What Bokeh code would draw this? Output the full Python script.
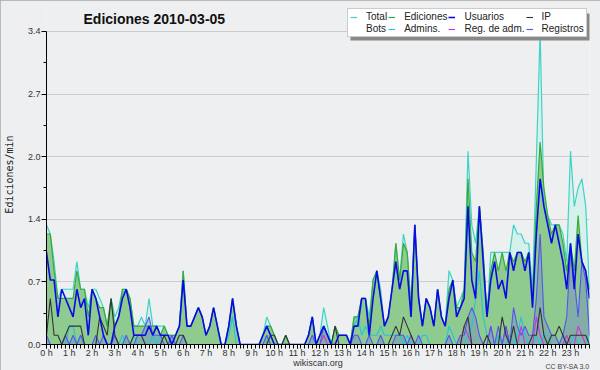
from bokeh.plotting import figure
from bokeh.models import (Range1d, FixedTicker, NumeralTickFormatter, Legend, LegendItem,
                          Label, BoxAnnotation, ColumnDataSource, Title)
from bokeh.embed import file_html
from bokeh.resources import INLINE

hour_labels = ["0 h", "1 h", "2 h", "3 h", "4 h", "5 h", "6 h", "7 h", "8 h", "9 h",
               "10 h", "11 h", "12 h", "13 h", "14 h", "15 h", "16 h", "17 h", "18 h",
               "19 h", "20 h", "21 h", "22 h", "23 h"]

# values: edits per minute, one value per 10-minute slot (6 per hour)
total = [
    1.3, 1.2, 0.9, 0.5, 0.6, 0.6,
    0.6, 0.6, 0.9, 0.6, 0.6, 0.4,
    0.6, 0.6, 0.5, 0.4, 0.2, 0.5,
    0.3, 0.4, 0.6, 0.6, 0.5, 0.2,
    0.2, 0.3, 0.2, 0.5, 0.2, 0.2,
    0.2, 0.2, 0.1, 0.1, 0.1, 0.2,
    0.8, 0.2, 0.2, 0.3, 0.4, 0.3,
    0.1, 0.2, 0.4, 0.2, 0.0, 0.0,
    0.2, 0.5, 0.2, 0.0, 0.0, 0.0,
    0.0, 0.0, 0.0, 0.1, 0.3, 0.2,
    0.1, 0.0, 0.0, 0.1, 0.0, 0.0,
    0.0, 0.0, 0.0, 0.1, 0.3, 0.0,
    0.1, 0.4, 0.2, 0.0, 0.2, 0.1,
    0.1, 0.1, 0.0, 0.3, 0.3, 0.5,
    0.5, 0.3, 0.7, 0.8, 0.6, 0.2,
    0.3, 0.6, 1.1, 0.7, 1.2, 1.0,
    0.4, 1.3, 0.5, 0.2, 0.5, 0.4,
    0.2, 0.6, 0.3, 0.2, 0.8, 0.7,
    0.4, 0.5, 0.6, 2.1, 1.3, 1.1,
    1.5, 1.0, 0.3, 1.0, 1.0, 1.0,
    1.0, 1.0, 1.0, 1.3, 1.2, 1.2,
    1.1, 1.1, 0.6, 2.0, 3.4, 1.5,
    1.4, 1.3, 1.3, 1.3, 1.2, 0.9,
    2.1, 1.5, 1.7, 1.8, 1.5, 0.6,
]
ediciones = [
    1.2, 1.2, 0.8, 0.5, 0.5, 0.5,
    0.5, 0.5, 0.8, 0.6, 0.6, 0.3,
    0.6, 0.5, 0.4, 0.4, 0.2, 0.5,
    0.2, 0.3, 0.6, 0.6, 0.5, 0.2,
    0.2, 0.2, 0.2, 0.2, 0.2, 0.2,
    0.1, 0.2, 0.1, 0.1, 0.1, 0.2,
    0.8, 0.2, 0.2, 0.3, 0.4, 0.3,
    0.1, 0.2, 0.4, 0.2, 0.0, 0.0,
    0.2, 0.5, 0.2, 0.0, 0.0, 0.0,
    0.0, 0.0, 0.0, 0.1, 0.2, 0.2,
    0.1, 0.0, 0.0, 0.1, 0.0, 0.0,
    0.0, 0.0, 0.0, 0.1, 0.3, 0.0,
    0.1, 0.2, 0.1, 0.0, 0.2, 0.1,
    0.1, 0.1, 0.0, 0.3, 0.3, 0.5,
    0.5, 0.2, 0.7, 0.8, 0.5, 0.2,
    0.3, 0.6, 1.1, 0.7, 1.1, 1.0,
    0.4, 1.3, 0.5, 0.2, 0.5, 0.4,
    0.2, 0.6, 0.3, 0.2, 0.6, 0.7,
    0.4, 0.4, 0.6, 1.8, 1.0, 0.9,
    1.5, 1.0, 0.3, 0.8, 1.0, 0.8,
    1.0, 0.8, 1.0, 0.9, 1.0, 1.0,
    0.9, 1.0, 0.5, 1.5, 2.2, 1.7,
    1.4, 1.2, 1.3, 1.3, 1.1, 0.8,
    1.1, 0.8, 1.4, 0.9, 0.8, 0.6,
]
usuarios = [
    1.0, 0.7, 0.7, 0.3, 0.6, 0.5,
    0.4, 0.3, 0.6, 0.4, 0.5, 0.1,
    0.6, 0.5, 0.3, 0.1, 0.0, 0.0,
    0.2, 0.3, 0.5, 0.6, 0.4, 0.1,
    0.1, 0.1, 0.1, 0.2, 0.1, 0.2,
    0.1, 0.1, 0.1, 0.0, 0.1, 0.2,
    0.7, 0.2, 0.2, 0.3, 0.4, 0.3,
    0.1, 0.2, 0.4, 0.2, 0.0, 0.0,
    0.2, 0.5, 0.2, 0.0, 0.0, 0.0,
    0.0, 0.0, 0.0, 0.1, 0.2, 0.1,
    0.0, 0.0, 0.0, 0.0, 0.0, 0.0,
    0.0, 0.0, 0.0, 0.1, 0.3, 0.0,
    0.1, 0.2, 0.1, 0.0, 0.0, 0.1,
    0.1, 0.1, 0.0, 0.2, 0.2, 0.5,
    0.5, 0.1, 0.5, 0.8, 0.5, 0.2,
    0.3, 0.6, 0.9, 0.6, 0.8, 0.8,
    0.3, 1.3, 0.5, 0.2, 0.5, 0.4,
    0.2, 0.6, 0.3, 0.2, 0.5, 0.7,
    0.3, 0.4, 0.5, 1.5, 0.7, 0.5,
    1.5, 0.9, 0.3, 0.7, 0.9, 0.6,
    0.7, 0.5, 1.0, 0.8, 1.0, 1.0,
    0.8, 1.0, 0.4, 1.2, 1.8, 1.5,
    1.3, 1.1, 1.3, 1.1, 0.9, 0.6,
    1.1, 0.6, 1.2, 0.9, 0.8, 0.5,
]
ip = [
    0.1, 0.5, 0.1, 0.1, 0.0, 0.1,
    0.2, 0.2, 0.2, 0.2, 0.0, 0.0,
    0.0, 0.0, 0.3, 0.2, 0.1, 0.5,
    0.1, 0.0, 0.0, 0.0, 0.0, 0.1,
    0.1, 0.1, 0.0, 0.0, 0.0, 0.0,
    0.0, 0.1, 0.0, 0.0, 0.0, 0.1,
    0.1, 0.0, 0.0, 0.0, 0.0, 0.0,
    0.0, 0.0, 0.0, 0.0, 0.0, 0.0,
    0.0, 0.0, 0.0, 0.0, 0.0, 0.0,
    0.0, 0.0, 0.0, 0.0, 0.0, 0.1,
    0.1, 0.0, 0.0, 0.1, 0.0, 0.0,
    0.0, 0.0, 0.0, 0.0, 0.0, 0.0,
    0.0, 0.0, 0.0, 0.0, 0.2, 0.0,
    0.0, 0.0, 0.0, 0.0, 0.0, 0.0,
    0.0, 0.0, 0.0, 0.0, 0.0, 0.0,
    0.0, 0.1, 0.2, 0.1, 0.3, 0.2,
    0.1, 0.0, 0.0, 0.0, 0.0, 0.0,
    0.0, 0.0, 0.0, 0.0, 0.0, 0.0,
    0.0, 0.0, 0.2, 0.3, 0.0, 0.0,
    0.0, 0.0, 0.1, 0.0, 0.0, 0.0,
    0.3, 0.1, 0.0, 0.2, 0.0, 0.0,
    0.0, 0.0, 0.1, 0.1, 0.4, 0.1,
    0.0, 0.1, 0.1, 0.2, 0.1, 0.0,
    0.1, 0.1, 0.1, 0.1, 0.1, 0.0,
]
admins = [
    0.0, 0.0, 0.0, 0.0, 0.0, 0.0,
    0.2, 0.2, 0.0, 0.1, 0.0, 0.0,
    0.0, 0.0, 0.0, 0.0, 0.0, 0.0,
    0.0, 0.0, 0.1, 0.0, 0.0, 0.1,
    0.0, 0.0, 0.0, 0.0, 0.1, 0.0,
    0.1, 0.0, 0.0, 0.0, 0.0, 0.0,
    0.0, 0.0, 0.0, 0.0, 0.0, 0.0,
    0.0, 0.0, 0.0, 0.0, 0.0, 0.0,
    0.1, 0.3, 0.0, 0.0, 0.0, 0.0,
    0.0, 0.0, 0.0, 0.0, 0.1, 0.0,
    0.0, 0.0, 0.0, 0.0, 0.0, 0.0,
    0.0, 0.0, 0.0, 0.0, 0.0, 0.0,
    0.0, 0.0, 0.0, 0.0, 0.0, 0.0,
    0.0, 0.0, 0.0, 0.2, 0.3, 0.1,
    0.2, 0.1, 0.1, 0.1, 0.2, 0.1,
    0.1, 0.1, 0.1, 0.1, 0.0, 0.1,
    0.0, 0.0, 0.0, 0.1, 0.1, 0.0,
    0.0, 0.0, 0.0, 0.0, 0.2, 0.1,
    0.0, 0.0, 0.0, 0.1, 0.2, 0.5,
    0.8, 0.3, 0.1, 0.0, 0.0, 0.1,
    0.0, 0.0, 0.1, 0.0, 0.1, 0.3,
    0.1, 0.0, 0.0, 0.1, 0.0, 0.1,
    0.1, 0.0, 0.0, 0.0, 0.1, 0.0,
    0.0, 0.1, 0.0, 0.0, 0.0, 0.1,
]
reg_adm = [
    0.0, 0.0, 0.0, 0.0, 0.0, 0.0,
    0.0, 0.0, 0.0, 0.0, 0.0, 0.0,
    0.0, 0.0, 0.0, 0.0, 0.0, 0.0,
    0.0, 0.0, 0.0, 0.0, 0.0, 0.0,
    0.0, 0.0, 0.0, 0.0, 0.0, 0.0,
    0.0, 0.0, 0.0, 0.0, 0.0, 0.0,
    0.0, 0.0, 0.0, 0.0, 0.0, 0.0,
    0.0, 0.0, 0.0, 0.0, 0.0, 0.0,
    0.0, 0.0, 0.0, 0.0, 0.0, 0.0,
    0.0, 0.0, 0.0, 0.0, 0.0, 0.0,
    0.0, 0.0, 0.0, 0.0, 0.0, 0.0,
    0.0, 0.0, 0.0, 0.0, 0.0, 0.0,
    0.0, 0.1, 0.0, 0.0, 0.0, 0.0,
    0.0, 0.0, 0.0, 0.0, 0.0, 0.0,
    0.0, 0.0, 0.0, 0.0, 0.0, 0.0,
    0.0, 0.0, 0.0, 0.0, 0.0, 0.0,
    0.0, 0.0, 0.0, 0.0, 0.0, 0.0,
    0.0, 0.0, 0.0, 0.0, 0.0, 0.0,
    0.0, 0.0, 0.2, 0.1, 0.0, 0.0,
    0.0, 0.0, 0.0, 0.2, 0.0, 0.0,
    0.0, 0.2, 0.0, 0.0, 0.0, 0.2,
    0.0, 0.0, 0.0, 0.3, 0.1, 0.0,
    0.0, 0.0, 0.0, 0.0, 0.0, 0.1,
    0.0, 0.0, 0.2, 0.1, 0.0, 0.0,
]
registros = [
    0.1, 0.0, 0.0, 0.0, 0.0, 0.1,
    0.0, 0.1, 0.0, 0.1, 0.0, 0.0,
    0.0, 0.1, 0.0, 0.1, 0.0, 0.0,
    0.1, 0.0, 0.0, 0.1, 0.0, 0.0,
    0.1, 0.1, 0.2, 0.3, 0.1, 0.1,
    0.1, 0.0, 0.0, 0.1, 0.0, 0.0,
    0.1, 0.0, 0.0, 0.0, 0.0, 0.0,
    0.0, 0.0, 0.0, 0.0, 0.0, 0.0,
    0.0, 0.0, 0.0, 0.0, 0.0, 0.0,
    0.0, 0.0, 0.0, 0.0, 0.1, 0.0,
    0.0, 0.0, 0.0, 0.0, 0.0, 0.0,
    0.0, 0.0, 0.0, 0.0, 0.1, 0.0,
    0.0, 0.2, 0.1, 0.0, 0.0, 0.0,
    0.0, 0.0, 0.0, 0.1, 0.1, 0.0,
    0.0, 0.1, 0.0, 0.0, 0.1, 0.0,
    0.0, 0.0, 0.1, 0.1, 0.1, 0.0,
    0.1, 0.0, 0.1, 0.0, 0.0, 0.0,
    0.0, 0.0, 0.0, 0.0, 0.1, 0.0,
    0.0, 0.1, 0.1, 0.3, 0.4, 0.3,
    0.1, 0.0, 0.0, 0.2, 0.0, 0.2,
    0.0, 0.2, 0.0, 0.4, 0.2, 0.1,
    0.2, 0.1, 0.1, 0.5, 1.2, 0.3,
    0.2, 0.1, 0.1, 0.0, 0.1, 0.3,
    1.0, 0.7, 0.3, 0.9, 0.7, 0.1,
]

slot = list(range(len(total)))
src = ColumnDataSource(dict(slot=slot, total=total, ediciones=ediciones, usuarios=usuarios,
                            ip=ip, admins=admins, reg_adm=reg_adm, registros=registros))

BG = "#eeeff0"
p = figure(width=600, height=370, output_backend="svg", toolbar_location=None,
           x_range=Range1d(0, len(total) - 1), y_range=Range1d(0, 3.693),
           min_border_left=46, min_border_right=11, min_border_top=4, min_border_bottom=26,
           background_fill_color=BG, border_fill_color=BG)
p.outline_line_color = None
p.styles = {"outline": "1px solid #a8a8a8", "outline-offset": "-1px"}

# axes
p.xaxis.ticker = FixedTicker(ticks=[6 * h for h in range(24)], minor_ticks=slot)
p.xaxis.major_label_overrides = {6 * h: lab for h, lab in enumerate(hour_labels)}
p.yaxis.ticker = FixedTicker(ticks=[0, 0.68, 1.36, 2.04, 2.72, 3.4],
                             minor_ticks=[0.34, 1.02, 1.7, 2.38, 3.06])
p.yaxis.formatter = NumeralTickFormatter(format="0.0")
p.yaxis.bounds = (0, 3.4)
for ax in (p.xaxis[0], p.yaxis[0]):
    ax.axis_line_color = "#000000"
    ax.major_tick_line_color = "#000000"
    ax.minor_tick_line_color = "#000000"
    ax.major_tick_in = 0
    ax.minor_tick_in = 0
    ax.major_label_text_font = "Liberation Sans"
    ax.major_label_text_font_size = "9px"
    ax.major_label_text_color = "#333333"
    ax.major_label_text_line_height = 1.0
p.xaxis.major_label_standoff = -1
p.yaxis.major_label_standoff = 1
p.xaxis.major_tick_out = 4
p.xaxis.minor_tick_out = 4
p.yaxis.major_tick_out = 5
p.yaxis.minor_tick_out = 3
p.xaxis.axis_label = "wikiscan.org"
p.xaxis.axis_label_text_font = "Liberation Sans"
p.xaxis.axis_label_text_font_size = "9px"
p.xaxis.axis_label_text_font_style = "normal"
p.xaxis.axis_label_text_color = "#333333"
p.xaxis.axis_label_text_line_height = 1.0
p.xaxis.axis_label_standoff = -3
p.yaxis.axis_label = "Ediciones/min"
p.yaxis.axis_label_text_font = "DejaVu Sans Mono"
p.yaxis.axis_label_text_font_size = "10px"
p.yaxis.axis_label_text_font_style = "normal"
p.yaxis.axis_label_text_color = "#222222"
p.yaxis.axis_label_standoff = 10
p.xgrid.grid_line_color = None
p.ygrid.grid_line_color = "#cccccc"

# areas
p.varea(x="slot", y1=0, y2="total", source=src, fill_color="#d6f0eb")
p.varea(x="slot", y1=0, y2="ediciones", source=src, fill_color="#8fca8f")
p.varea(x="slot", y1=0, y2="registros", source=src, fill_color="#6a6ae0", fill_alpha=0.3)

# lines
r_total = p.line("slot", "total", source=src, line_color="#3fd3c6", line_width=1.2)
r_edic = p.line("slot", "ediciones", source=src, line_color="#38aa38", line_width=1.2)
r_bots = p.line(x=[], y=[], line_color="#ff9933", line_width=1.2)
r_adm = p.line("slot", "admins", source=src, line_color="#22c6d6", line_width=1.1)
r_regadm = p.line("slot", "reg_adm", source=src, line_color="#cc33dd", line_width=1.1)
r_reg = p.line("slot", "registros", source=src, line_color="#5555ee", line_width=1.1)
r_ip = p.line("slot", "ip", source=src, line_color="#333333", line_width=1.1)
r_usu = p.line("slot", "usuarios", source=src, line_color="#0a0ae6", line_width=1.6)

# legend shadow
shadow = BoxAnnotation(left=304, right=546, top=331, bottom=304,
                       left_units="screen", right_units="screen",
                       top_units="screen", bottom_units="screen",
                       fill_color="#888888", fill_alpha=1.0, line_color=None)
p.add_layout(shadow)

legend = Legend(items=[
    LegendItem(label="Total", renderers=[r_total]),
    LegendItem(label="Ediciones", renderers=[r_edic]),
    LegendItem(label="Usuarios", renderers=[r_usu]),
    LegendItem(label="IP", renderers=[r_ip]),
    LegendItem(label="Bots", renderers=[r_bots]),
    LegendItem(label="Admins.", renderers=[r_adm]),
    LegendItem(label="Reg. de adm.", renderers=[r_regadm]),
    LegendItem(label="Registros", renderers=[r_reg]),
], location=(301, 307), orientation="horizontal", ncols=4, nrows=2)
legend.label_text_font = "Liberation Sans"
legend.label_text_font_size = "10px"
legend.label_text_line_height = 1.0
legend.label_text_color = "#222222"
legend.label_height = 10
legend.glyph_height = 10
legend.glyph_width = 7
legend.label_standoff = 9
legend.spacing = 1
legend.padding = 2
legend.margin = 0
legend.border_line_color = "#999999"
legend.background_fill_color = "#ffffff"
legend.background_fill_alpha = 1.0
p.add_layout(legend)

# title inside the (extended) frame
p.add_layout(Label(x=37, y=326, x_units="screen", y_units="screen",
                   text="Ediciones  2010-03-05", text_font="Liberation Sans",
                   text_font_style="bold", text_font_size="14px", text_color="#111111",
                   text_baseline="middle", text_align="left"))

# licence note below the axis, pulled up onto the axis-label row
cc = Title(text="CC BY-SA 3.0", align="right", vertical_align="top",
           text_font="Liberation Sans", text_font_size="7px", text_font_style="normal",
           text_color="#444444", standoff=-16)
p.add_layout(cc, "below")

open("out.html", "w").write(file_html(p, INLINE))
